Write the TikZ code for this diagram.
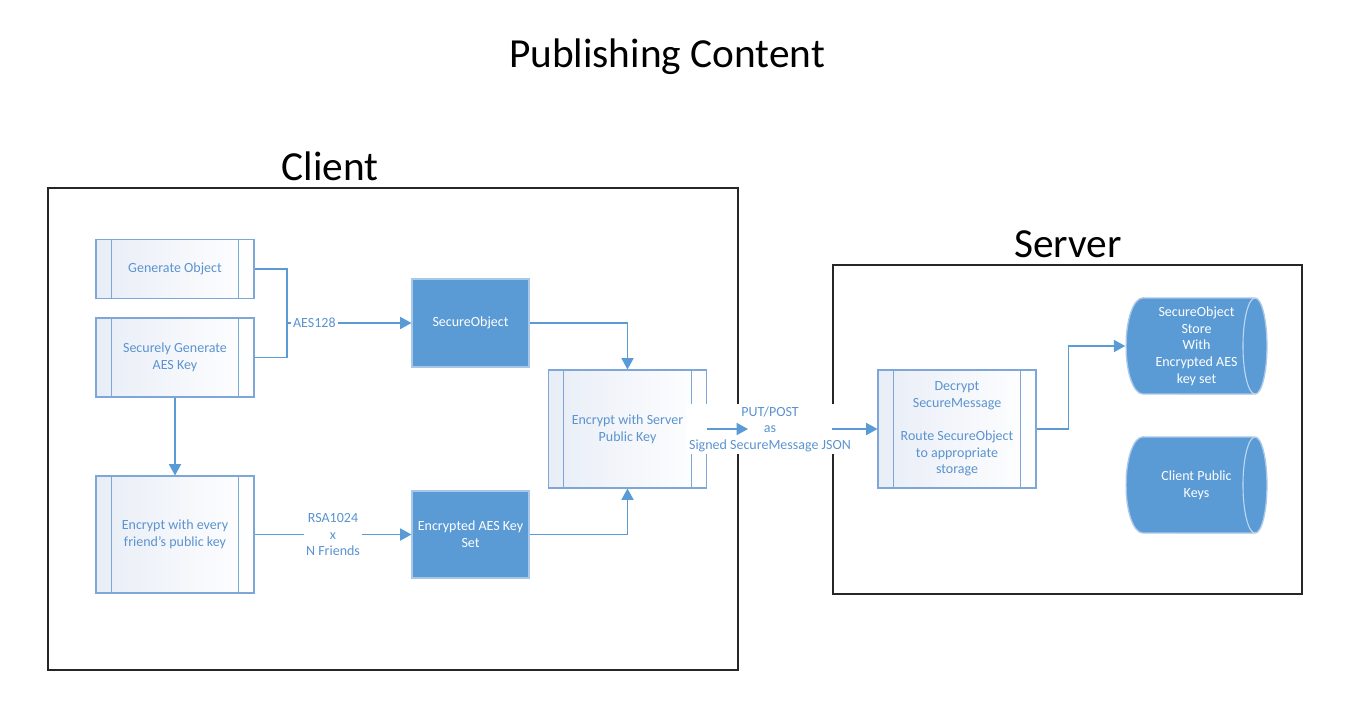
\documentclass[tikz,border=0pt]{standalone}
\usepackage{fontspec}
\setmainfont{Carlito}
\usetikzlibrary{arrows.meta,shadows}
\definecolor{boxblue}{HTML}{5B9BD5}
\definecolor{boxedge}{HTML}{A9C7E8}
\definecolor{procedge}{HTML}{7EA6D8}
\definecolor{procshade}{HTML}{E8EDF6}
\definecolor{textblue}{HTML}{5B93D0}
\begin{document}
\begin{tikzpicture}[x=0.75pt,y=-0.75pt,
	proc/.style={draw=procedge,line width=0.8pt,left color=procshade,right color=white,text=textblue,
		font=\fontsize{10.5}{12.5}\selectfont,align=center,minimum width=118.5pt,inner sep=0pt,
		path picture={\draw[procedge,line width=0.8pt]
			([xshift=11.5pt]path picture bounding box.north west) -- ([xshift=11.5pt]path picture bounding box.south west)
			([xshift=-11.5pt]path picture bounding box.north east) -- ([xshift=-11.5pt]path picture bounding box.south east);}},
	data/.style={draw=boxedge,line width=0.8pt,fill=boxblue,text=white,font=\fontsize{10.5}{12.5}\selectfont,align=center,
		minimum width=87.75pt,inner sep=0pt,drop shadow={opacity=0.15,shadow xshift=1pt,shadow yshift=-1pt}},
	store/.style={text=white,font=\fontsize{10.5}{12.5}\selectfont,align=center,minimum width=106.5pt,minimum height=72.75pt,inner sep=0pt,
		path picture={\path[fill=boxblue,draw=boxedge,line width=1pt]
			([xshift=13pt,yshift=-0.4pt]path picture bounding box.north west) -- ([xshift=-9.4pt,yshift=-0.4pt]path picture bounding box.north east)
			arc[start angle=90,end angle=-90,x radius=9pt,y radius=36pt]
			-- ([xshift=13pt,yshift=0.4pt]path picture bounding box.south west)
			arc[start angle=270,end angle=90,x radius=12.6pt,y radius=36pt] -- cycle;
			\draw[boxedge!70!white,line width=0.8pt] ([xshift=-9.4pt,yshift=-0.4pt]path picture bounding box.north east)
			arc[start angle=90,end angle=270,x radius=9pt,y radius=36pt];}},
	frame/.style={draw=black!85,line width=0.8pt,inner sep=0pt},
	heading/.style={font=\fontsize{31}{36}\selectfont},
	lbl/.style={fill=white,text=textblue,font=\fontsize{10.5}{12.5}\selectfont,inner sep=1.5pt},
	wire/.style={draw=boxblue,line width=1.3pt},
	link/.style={wire,-{Triangle[length=8.5pt,width=9pt]}}]
	\useasboundingbox (0,0) rectangle (1366,708);
	\node[heading] (title) at (667,57) {Publishing Content};
	\node[frame,minimum width=517.5pt,minimum height=361.5pt] (client) at (393,429) {};
	\node[frame,minimum width=351.75pt,minimum height=246.75pt] (server) at (1067.5,429.5) {};
	\node[heading] (clienttitle) at (330,166) {Client};
	\node[heading] (servertitle) at (1068,244) {Server};
	\node[proc,minimum height=44.25pt] (gen) at (175,269) {Generate Object};
	\node[proc,minimum height=59.25pt] (sec) at (175,357.5) {Securely Generate\\AES Key};
	\node[proc,minimum height=87.75pt] (fri) at (175,534.5) {Encrypt with every\\friend’s public key};
	\node[data,minimum height=66pt] (so) at (470.5,323) {SecureObject};
	\node[data,minimum height=65.25pt] (eks) at (470.5,534.5) {Encrypted AES Key\\Set};
	\node[proc,minimum height=88.5pt] (enc) at (627.5,429) {Encrypt with Server\\Public Key};
	\node[proc,minimum height=88.5pt] (dec) at (957,429) {Decrypt\\SecureMessage\\[12.5pt]Route SecureObject\\to appropriate\\storage};
	\node[store] (objstore) at (1196.5,346) {SecureObject\\Store\\With\\Encrypted AES\\key set};
	\node[store] (keystore) at (1196.5,485) {Client Public\\Keys};
	\node[lbl,align=center] (put) at (770,429) {PUT/POST\\as\\Signed SecureMessage JSON};
	\coordinate (join) at (287,323);
	\coordinate (putin) at (748,429);
	\coordinate (putout) at (832,429);
	\draw[wire] (gen.east) -| (join);
	\draw[wire] (sec.east) -| (join);
	\draw[link] (join) -- node[lbl,pos=0.22] {AES128} (so.west);
	\draw[link] (sec.south) -- (fri.north);
	\draw[link] (fri.east) -- node[lbl,align=center] {RSA1024\\x\\N Friends} (eks.west);
	\draw[link] (so.east) -| (enc.north);
	\draw[link] (eks.east) -| (enc.south);
	\draw[link] (enc.east) -- (putin);
	\draw[link] (putout) -- (dec.west);
	\draw[link] (dec.east) -- ++(32,0) |- (objstore.west);
\end{tikzpicture}
\end{document}
